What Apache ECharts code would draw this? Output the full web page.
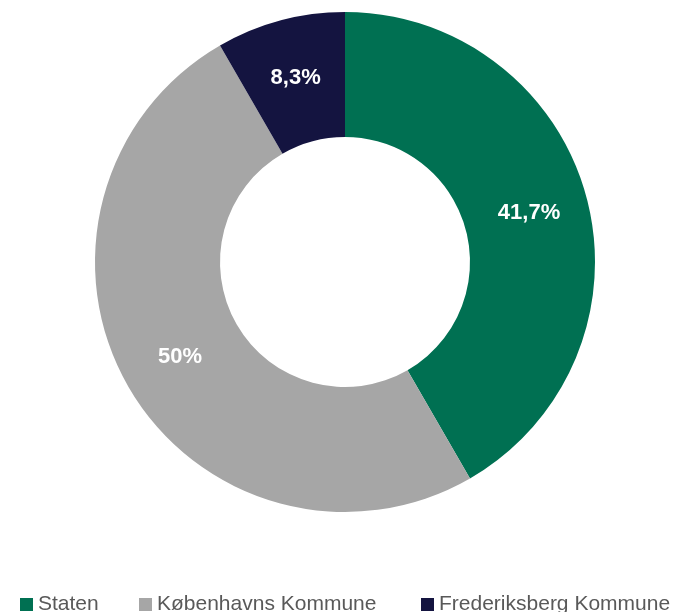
<!DOCTYPE html>
<html>
<head>
<meta charset="utf-8">
<script src="https://cdn.jsdelivr.net/npm/echarts@6/dist/echarts.min.js"></script>
<style>
  html, body { margin: 0; padding: 0; background: #fff; }
  #main { width: 684px; height: 612px; }
</style>
</head>
<body>
<div id="main"></div>
<script>
// data
var categories = ["Staten", "Københavns Kommune", "Frederiksberg Kommune"];
var values = [5, 6, 1];
var colors = ["#007052", "#a6a6a6", "#141440"];

var myChart = echarts.init(document.getElementById("main"));

var seriesData = [];
for (var i = 0; i < categories.length; i++) {
  seriesData.push({
    name: categories[i],
    value: values[i],
    itemStyle: { color: colors[i] }
  });
}

// one legend per item so each sits where the original puts it
var legendLeft = [15, 134, 416];
var legends = [];
for (var j = 0; j < categories.length; j++) {
  legends.push({
    data: [categories[j]],
    left: legendLeft[j],
    top: 589,
    icon: "rect",
    itemWidth: 13,
    itemHeight: 13,
    textStyle: {
      color: "#595959",
      fontSize: 21,
      fontFamily: "Liberation Sans"
    }
  });
}

var option = {
  animation: false,
  legend: legends,
  series: [
    {
      type: "pie",
      center: [345, 262],
      radius: [125, 250],
      startAngle: 90,
      clockwise: true,
      avoidLabelOverlap: false,
      label: {
        position: "inside",
        color: "#fff",
        fontSize: 22,
        fontWeight: "bold",
        fontFamily: "Liberation Sans",
        formatter: function(p) {
          var s = p.percent.toFixed(1);
          if (s.slice(-2) === ".0") s = s.slice(0, -2);
          return s.replace(".", ",") + "%";
        }
      },
      labelLine: { show: false },
      emphasis: { disabled: true },
      data: seriesData
    }
  ]
};
myChart.setOption(option);
</script>
</body>
</html>
